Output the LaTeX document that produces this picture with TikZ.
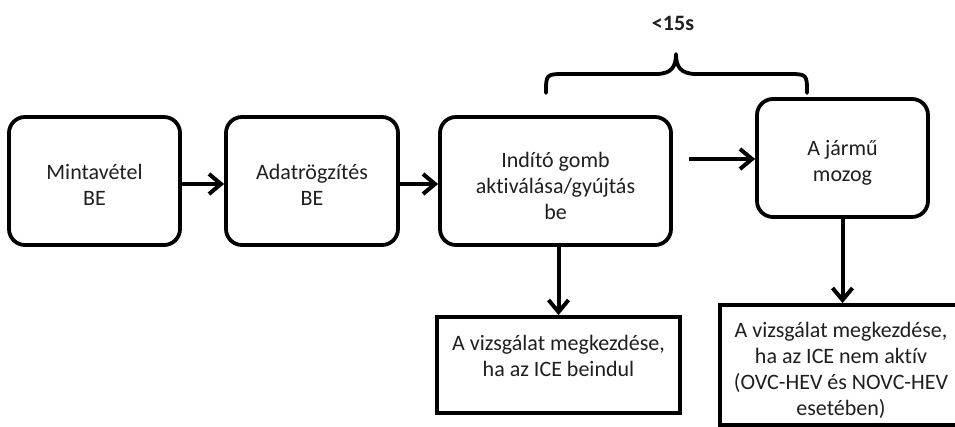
\documentclass[tikz,border=0pt]{standalone}
\usepackage{fontspec}
\setmainfont{Carlito}[Ligatures={NoCommon}]
\usetikzlibrary{arrows.meta}
\begin{document}
\begin{tikzpicture}[x=1pt,y=-1pt,
  rbox/.style={draw=black, line width=3.8pt, rounded corners=16pt, fill=white, inner sep=0pt},
  sbox/.style={draw=black, line width=3.8pt, fill=white, inner sep=0pt},
  txt/.style={font=\fontsize{22}{26}\selectfont, text=black!88, align=center, inner sep=0pt},
  flow/.style={draw=black, line width=4pt, -{Straight Barb[length=12pt,width=20pt,line width=4pt]}},
  bracestyle/.style={draw=black, line width=3.8pt, line cap=round, line join=round}]
\useasboundingbox (0,0) rectangle (955,427);
% boxes
\node[rbox, minimum width=171pt, minimum height=128pt] (b1) at (94.5,181) {};
\node[rbox, minimum width=172pt, minimum height=128pt] (b2) at (312,181) {};
\node[rbox, minimum width=231pt, minimum height=128pt] (b3) at (555.5,181) {};
\node[rbox, minimum width=171pt, minimum height=118pt] (b4) at (842.5,158) {};
\node[sbox, minimum width=243pt, minimum height=96pt] (b5) at (558.5,365) {};
\node[sbox, minimum width=242pt, minimum height=120pt] (b6) at (841,365) {};
% texts
\node[txt] (t1) at (94.5,185) {Mintavétel\\BE};
\node[txt] (t2) at (312,185) {Adatrögzítés\\BE};
\node[txt] (t3) at (555.5,186) {Indító gomb\\aktiválása/gyújtás\\be};
\node[txt] (t4) at (842.5,163) {A jármű\\mozog};
\node[txt] (t5) at (558.5,356) {A vizsgálat megkezdése,\\ha az ICE beindul};
\node[txt] (t6) at (841,370) {A vizsgálat megkezdése,\\ha az ICE nem aktív\\(OVC-HEV és NOVC-HEV\\esetében)};
\node[txt, font=\fontsize{22}{26}\selectfont\bfseries] (lbl) at (673,23) {<15s};
% connectors
\draw[flow] ([yshift=-3pt]b1.east) -- ([yshift=-3pt]b2.west);
\draw[flow] ([yshift=-3pt]b2.east) -- ([yshift=-3pt]b3.west);
\coordinate (s34) at (689,159);
\draw[flow] (s34) -- (b4.west |- s34);
\draw[flow] (b5.north |- b3.south) -- (b5.north);
\draw[flow] (b4.south) -- (b4.south |- b6.north);
% brace
\draw[bracestyle] (546,93) .. controls (546,74) .. (566,74) -- (656,74)
  .. controls (672,74) and (676,66) .. (676,54)
  .. controls (676,66) and (680,74) .. (696,74) -- (787,74)
  .. controls (807,74) .. (807,93);
\end{tikzpicture}
\end{document}
